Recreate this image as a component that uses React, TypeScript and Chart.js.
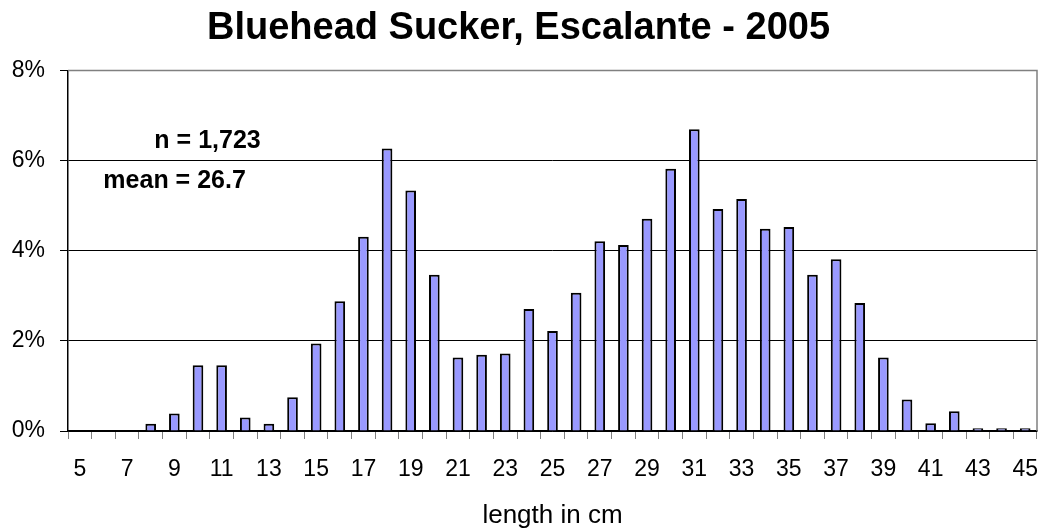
import React, { useEffect, useRef } from "react";
import { Chart, registerables } from "chart.js";

Chart.register(...registerables);

// ---- data ----
const categories: string[] = [
  "5", "6", "7", "8", "9", "10", "11", "12", "13", "14", "15", "16", "17", "18", "19",
  "20", "21", "22", "23", "24", "25", "26", "27", "28", "29", "30", "31", "32", "33",
  "34", "35", "36", "37", "38", "39", "40", "41", "42", "43", "44", "45",
];
const percentValues: number[] = [
  0, 0, 0, 0.16, 0.39, 1.46, 1.46, 0.3, 0.16, 0.75, 1.94, 2.88, 4.31, 6.27, 5.34,
  3.47, 1.63, 1.69, 1.72, 2.71, 2.22, 3.07, 4.21, 4.13, 4.71, 5.82, 6.7, 4.93, 5.15,
  4.49, 4.53, 3.47, 3.81, 2.84, 1.63, 0.7, 0.17, 0.44, 0.06, 0.06, 0.06,
];
const yTickValues: number[] = [0, 2, 4, 6, 8];
const titleText = "Bluehead Sucker, Escalante - 2005";
const xAxisTitle = "length in cm";
const noteN = "n = 1,723";
const noteMean = "mean = 26.7";

const FONT = "Arial, 'Liberation Sans', Helvetica, sans-serif";

export default function App() {
  const canvasRef = useRef<HTMLCanvasElement>(null);

  useEffect(() => {
    const canvas = canvasRef.current;
    if (!canvas) return;

    const framePlugin = {
      id: "frame",
      beforeDatasetsDraw(chart: any) {
        const { ctx, chartArea: a } = chart;
        ctx.save();
        ctx.strokeStyle = "#808080";
        ctx.lineWidth = 1.5;
        ctx.beginPath();
        ctx.moveTo(a.left, a.top);
        ctx.lineTo(a.right, a.top);
        ctx.lineTo(a.right, a.bottom);
        ctx.stroke();
        ctx.restore();
      },
    };

    const notesPlugin = {
      id: "notes",
      afterDraw(chart: any) {
        const { ctx, chartArea: a } = chart;
        const w = a.right - a.left;
        const h = a.bottom - a.top;
        ctx.save();
        ctx.font = `bold 25px ${FONT}`;
        ctx.fillStyle = "#000";
        ctx.textAlign = "center";
        ctx.textBaseline = "middle";
        ctx.fillText(noteN, a.left + w * 0.144, a.top + h * 0.197);
        ctx.fillText(noteMean, a.left + w * 0.11, a.top + h * 0.308);
        ctx.restore();
      },
    };

    const chart = new Chart(canvas, {
      type: "bar",
      data: {
        labels: categories,
        datasets: [
          {
            data: percentValues,
            backgroundColor: "#9999FF",
            borderColor: "#000000",
            borderWidth: 2,
            borderSkipped: "start",
            categoryPercentage: 1,
            barPercentage: 0.45,
          },
        ],
      },
      options: {
        animation: false,
        responsive: false,
        devicePixelRatio: 1,
        layout: { padding: { left: 0, right: 5, top: 0, bottom: 0 } },
        plugins: {
          legend: { display: false },
          tooltip: { enabled: false },
          title: {
            display: true,
            text: titleText,
            color: "#000",
            font: { family: FONT, size: 38, weight: "bold" },
            padding: { top: 6, bottom: 19 },
          },
        },
        scales: {
          x: {
            grid: {
              display: true,
              drawOnChartArea: false,
              drawTicks: true,
              tickLength: 8,
              tickColor: "#808080",
              offset: true,
            },
            border: { display: true, color: "#000", width: 1.5 },
            ticks: {
              autoSkip: false,
              maxRotation: 0,
              minRotation: 0,
              padding: 17,
              color: "#000",
              font: { family: FONT, size: 23 },
              callback: (_v: any, i: number) => (i % 2 === 0 ? categories[i] : ""),
            },
            title: {
              display: true,
              text: xAxisTitle,
              color: "#000",
              font: { family: FONT, size: 26 },
              padding: { top: 8, bottom: 0 },
            },
            afterFit: (s: any) => {
              s.height = 100;
              s.paddingLeft = 0;
              s.paddingRight = 0;
            },
          },
          y: {
            min: yTickValues[0],
            max: yTickValues[yTickValues.length - 1],
            afterBuildTicks: (s: any) => {
              s.ticks = yTickValues.map((v) => ({ value: v }));
            },
            ticks: {
              padding: 15,
              color: "#000",
              font: { family: FONT, size: 23 },
              callback: (v: any) => `${v}%`,
            },
            grid: {
              color: (c: any) => (c.tick && c.tick.value === 8 ? "#808080" : "#000"),
              lineWidth: 1,
              tickLength: 8,
              tickColor: "#000",
            },
            border: { display: true, color: "#000", width: 1.5 },
            afterFit: (s: any) => {
              s.width = 68;
            },
          },
        },
      },
      plugins: [framePlugin, notesPlugin],
    });

    return () => {
      chart.destroy();
    };
  }, []);

  return (
    <div
      style={{
        position: "absolute",
        left: 0,
        top: 0,
        width: 1042,
        height: 531,
        background: "#fff",
      }}
    >
      <canvas ref={canvasRef} width={1042} height={531} />
    </div>
  );
}
